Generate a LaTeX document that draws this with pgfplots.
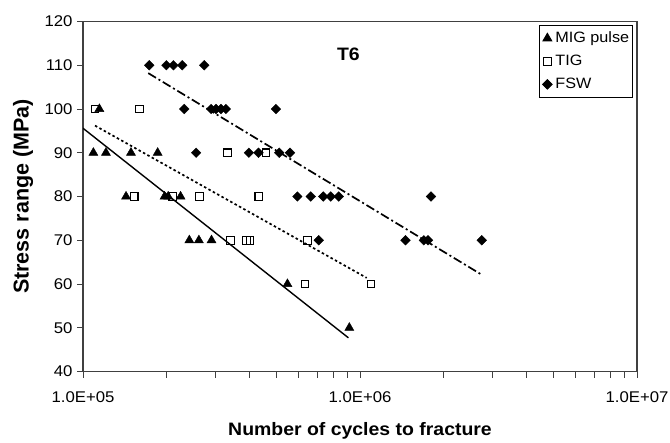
\documentclass[border=0pt]{standalone}
\usepackage{fontspec}
\setmainfont{Liberation Sans}[FakeStretch=1.08]
\newfontfamily\ylabfont{Liberation Sans}
\usepackage{pgfplots}
\pgfplotsset{compat=1.18}
\pgfplotsset{
  mark legend/.style={
    legend image code/.code={%
      \path[draw=none,fill=none] (0bp,-4bp) rectangle (13bp,4bp);
      \draw[##1] plot coordinates {(7bp,0bp)};}},
}

\begin{document}
\begin{tikzpicture}
\path[use as bounding box] (-83bp,-71.5bp) rectangle (587bp,371.5bp);
\begin{axis}[
  scale only axis, width=554bp, height=350bp,
  xmode=log, xmin=1e5, xmax=1e7, ymin=40, ymax=120,
  xtick={1e5,1e6,1e7},
  xticklabels={1.0E+05,1.0E+06,1.0E+07},
  minor xtick={2e5,3e5,4e5,5e5,6e5,7e5,8e5,9e5,2e6,3e6,4e6,5e6,6e6,7e6,8e6,9e6},
  ytick={40,50,60,70,80,90,100,110,120},
  tick pos=left, tick align=outside,
  major tick length=6bp, minor tick length=6bp,
  axis line style={black!75, line width=1.1bp},
  every tick/.style={black!75, line width=1bp},
  /pgf/number format/assume math mode=true,
  ticklabel style={font=\fontsize{15.5bp}{18bp}\selectfont},
  xticklabel style={yshift=-11bp},
  yticklabel style={xshift=-1bp},
  xlabel={Number of cycles to fracture},
  ylabel={Stress range (MPa)},
  xlabel style={font=\bfseries\fontsize{18bp}{21bp}\selectfont,
    at={(axis description cs:0.5,0)}, anchor=base, yshift=-63.5bp},
  ylabel style={font=\ylabfont\bfseries\fontsize{21.5bp}{25bp}\selectfont,
    at={(axis description cs:0,0.5)}, anchor=center, yshift=60bp},
  legend cell align=left,
  legend style={at={(rel axis cs:0.992,0.99)}, anchor=north east,
    draw=black, line width=0.8bp,
    font=\fontsize{15bp}{18bp}\selectfont,
    inner xsep=1bp, inner ysep=4bp, row sep=5bp,
    nodes={text depth=3bp, text height=11bp}},
]
% fitted S-N trend lines
\addplot[black, line width=1.4bp, forget plot]
  coordinates {(1e5,95.6) (9.08e5,47.7)};
\addplot[black, line width=1.7bp, dash pattern=on 2.5bp off 2.5bp, forget plot]
  coordinates {(1.105e5,96.2) (1.057e6,61.4)};
\addplot[black, line width=1.7bp, dash pattern=on 9bp off 3bp on 2bp off 3bp, forget plot]
  coordinates {(1.72e5,108.2) (2.77e6,62.0)};

% MIG pulse
\addplot[only marks, mark=triangle*, mark size=5.2bp, black, mark legend] coordinates {
  (1.146e5,100)
  (1.09e5,90) (1.21e5,90) (1.49e5,90) (1.86e5,90)
  (1.43e5,80) (1.97e5,80) (2.03e5,80) (2.25e5,80)
  (2.42e5,70) (2.62e5,70) (2.91e5,70)
  (5.47e5,60)
  (9.15e5,50)
};
\addlegendentry{MIG pulse}
% TIG
\addplot[only marks, mark=square, mark size=3.8bp, black, mark legend,
  mark options={fill=white, line width=1.1bp}] coordinates {
  (1.105e5,100) (1.6e5,100)
  (3.33e5,90) (4.58e5,90)
  (1.53e5,80) (2.11e5,80) (2.63e5,80) (4.31e5,80)
  (3.41e5,70) (3.9e5,70) (4.01e5,70) (6.45e5,70)
  (6.33e5,60) (1.096e6,60)
};
\addlegendentry{TIG}
% FSW
\addplot[only marks, mark=square*, mark size=3.4bp, black, mark legend,
  mark options={rotate=45}] coordinates {
  (1.735e5,110) (2.0e5,110) (2.12e5,110) (2.28e5,110) (2.74e5,110)
  (2.32e5,100) (2.90e5,100) (3.02e5,100) (3.15e5,100) (3.28e5,100) (4.97e5,100)
  (2.56e5,90) (3.97e5,90) (4.30e5,90) (5.11e5,90) (5.59e5,90)
  (5.94e5,80) (6.64e5,80) (7.37e5,80) (7.84e5,80) (8.38e5,80) (1.805e6,80)
  (7.1e5,70) (1.46e6,70) (1.70e6,70) (1.76e6,70) (2.75e6,70)
};
\addlegendentry{FSW}

\node[font=\bfseries\fontsize{18bp}{21bp}\selectfont] at (axis cs:9.08e5,112.5) {T6};
\end{axis}
\end{tikzpicture}
\end{document}
